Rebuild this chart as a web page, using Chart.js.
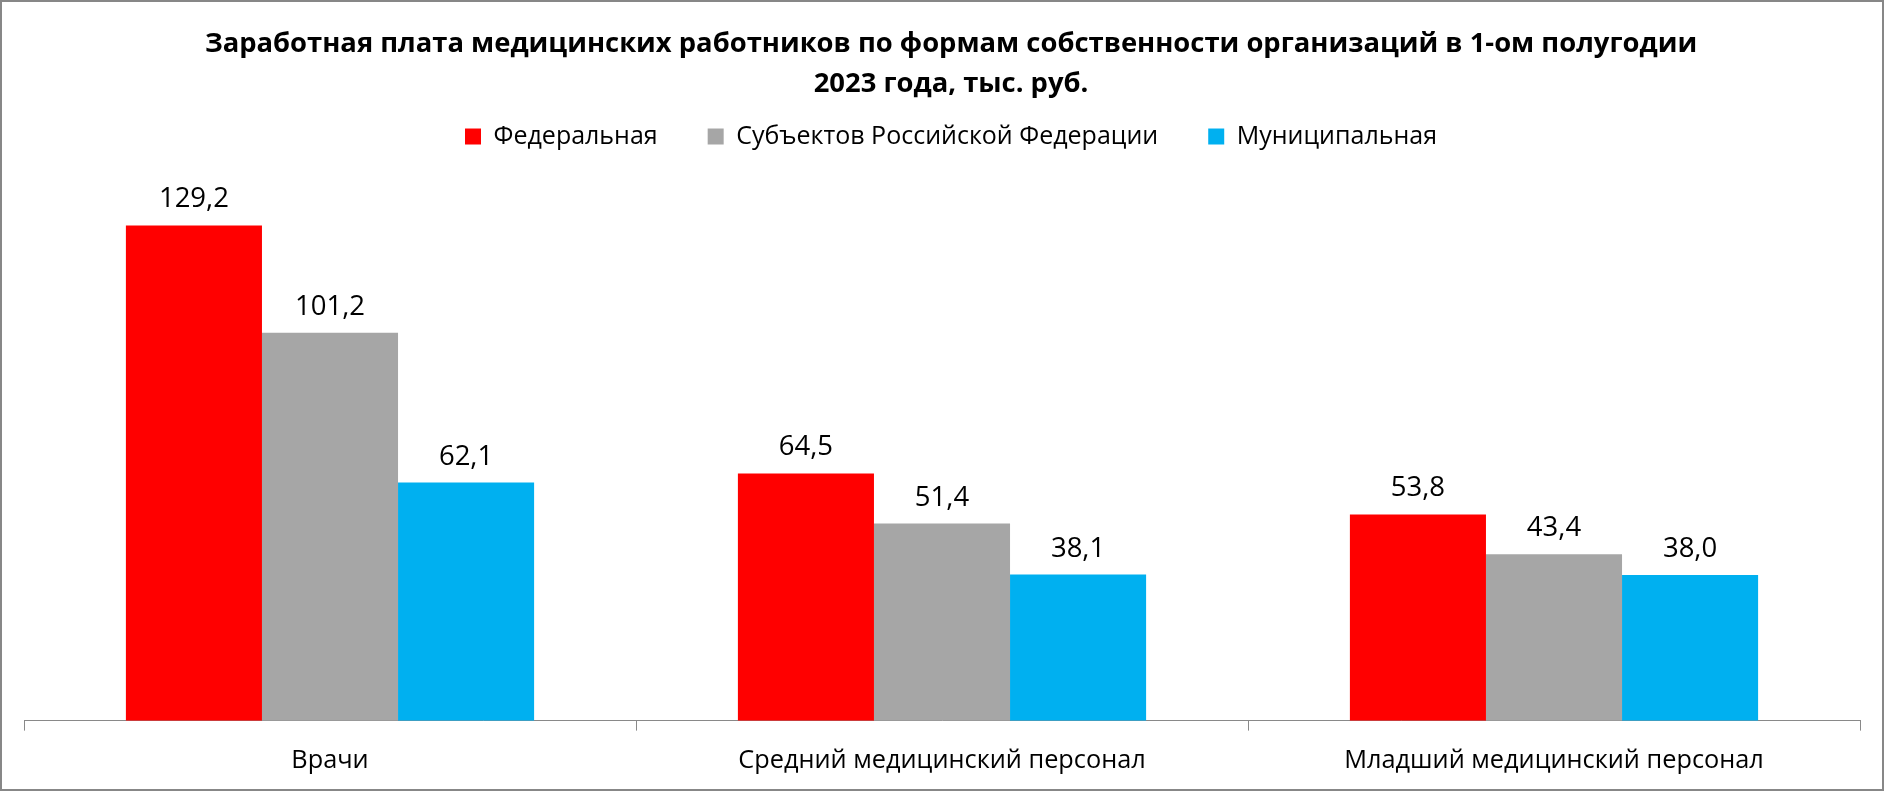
<!DOCTYPE html>
<html>
<head>
<meta charset="utf-8">
<script src="https://cdn.jsdelivr.net/npm/chart.js@4.4.0/dist/chart.umd.min.js"></script>
<style>
  html, body { margin: 0; padding: 0; background: #fff; }
  #wrap { width: 1884px; height: 791px; position: relative; }
</style>
</head>
<body>
<div id="wrap"><canvas id="chart" width="1884" height="791"></canvas></div>
<script>
// Зарплата медработников, 1 полугодие 2023, тыс. руб.
const categories = ['Врачи', 'Средний медицинский персонал', 'Младший медицинский персонал'];
const seriesNames = ['Федеральная', 'Субъектов Российской Федерации', 'Муниципальная'];
const federal   = [129.2, 64.5, 53.8];
const regional  = [101.2, 51.4, 43.4];
const municipal = [62.1, 38.1, 38.0];
const COLORS = ['#FF0000', '#A6A6A6', '#00B0F0'];

const FONT = '"Open Sans", "Noto Sans", sans-serif';

// border round the whole chart
const frame = {
  id: 'frame',
  afterDraw(chart) {
    const c = chart.ctx;
    c.save();
    c.strokeStyle = '#878787';
    c.lineWidth = 2;
    c.strokeRect(1, 1, chart.width - 2, chart.height - 2);
    c.restore();
  }
};

// extra gap under the legend, title + legend nudged right a bit like in Excel
const headerTweaks = {
  id: 'headerTweaks',
  beforeInit(chart) {
    const fit = chart.legend.fit;
    chart.legend.fit = function () {
      fit.bind(this)();
      this.height += 25;
    };
  },
  afterLayout(chart) {
    [chart.titleBlock, chart.legend].forEach(b => {
      if (!b) return;
      b.left += 9;
      b.right += 9;
    });
  }
};

// value labels above bars, with comma decimal
const valueLabels = {
  id: 'valueLabels',
  afterDatasetsDraw(chart) {
    const c = chart.ctx;
    c.save();
    c.font = `27.5px ${FONT}`;
    c.fillStyle = '#000';
    c.textAlign = 'center';
    c.textBaseline = 'alphabetic';
    chart.data.datasets.forEach((ds, i) => {
      chart.getDatasetMeta(i).data.forEach((bar, j) => {
        c.fillText(ds.data[j].toFixed(1).replace('.', ','), bar.x, bar.y - 18);
      });
    });
    c.restore();
  }
};

new Chart(document.getElementById('chart'), {
  type: 'bar',
  data: {
    labels: categories,
    datasets: [federal, regional, municipal].map((d, i) => ({
      label: seriesNames[i],
      data: d,
      backgroundColor: COLORS[i],
      borderWidth: 0,
      categoryPercentage: 0.667,
      barPercentage: 1.0,
    })),
  },
  options: {
    responsive: false,
    animation: false,
    layout: { padding: { left: 24, right: 24, top: 0, bottom: 0 } },
    plugins: {
      title: {
        display: true,
        text: ['Заработная плата медицинских работников по формам собственности организаций в 1-ом полугодии', '2023 года, тыс. руб.'],
        color: '#000',
        font: { family: FONT, size: 27.4, weight: 'bold', lineHeight: 1.46 },
        padding: { top: 24, bottom: -30 },
      },
      legend: {
        position: 'top',
        labels: {
          color: '#000',
          font: { family: FONT, size: 25 },
          boxWidth: 16, boxHeight: 16,
          padding: 50,
        },
      },
      tooltip: { enabled: false },
    },
    scales: {
      x: {
        grid: { drawOnChartArea: false, drawTicks: true, tickLength: 10, color: '#898989', offset: true },
        border: { color: '#898989', width: 1 },
        ticks: { color: '#000', font: { family: FONT, size: 25.3 }, padding: 15 },
      },
      y: { display: false, min: 0, max: 140 },
    },
  },
  plugins: [frame, headerTweaks, valueLabels],
});
</script>
</body>
</html>
